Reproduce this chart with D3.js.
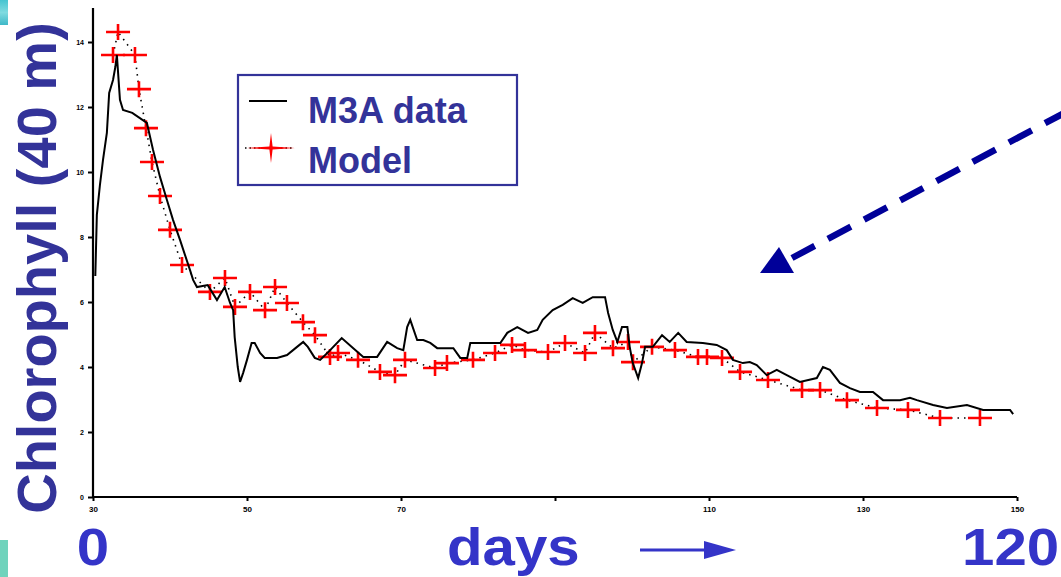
<!DOCTYPE html>
<html>
<head>
<meta charset="utf-8">
<script src="https://cdn.jsdelivr.net/npm/d3@7"></script>
<style>
  html, body { margin: 0; padding: 0; background: #fff; }
  svg { display: block; }
  text { font-family: "Liberation Sans", Arial, sans-serif; }
</style>
</head>
<body>
<svg id="chart" width="1061" height="577"></svg>
<script>
// M3A mooring chlorophyll at 40 m (days since start)
const m3aDays = [0.3,0.5,0.9,1.3,1.8,2.1,2.6,2.9,3.1,3.5,
  3.9,5.1,7.0,7.8,8.7,9.6,10.4,11.3,12.6,13.0,
  13.5,14.9,16.1,17.1,17.8,18.2,18.4,18.8,19.1,19.5,
  20.0,20.6,21.0,21.7,22.3,23.9,25.2,26.5,27.3,27.9,
  28.8,29.5,30.8,32.3,33.8,35.1,36.9,38.2,39.5,40.3,
  40.8,41.2,42.1,42.9,43.8,44.7,46.8,47.7,48.6,49.0,
  52.9,53.8,55.1,56.5,57.7,58.4,59.7,61.0,62.3,63.6,
  64.9,66.5,66.9,67.5,68.1,68.7,69.4,69.7,70.1,70.8,
  71.3,71.7,72.7,73.9,74.9,76.0,77.1,79.2,81.0,82.3,
  83.1,84.4,85.3,86.2,87.5,88.8,90.1,91.8,94.0,94.8,
  95.7,97.0,98.3,99.6,101.3,102.6,104.8,106.1,107.0,109.1,
  110.9,113.5,115.6,119.1,119.5];
const m3aValues = [6.80,8.68,9.60,10.37,11.20,12.43,12.83,13.23,13.60,12.22,
  11.91,11.82,11.51,10.68,9.85,9.14,8.52,7.91,6.98,6.68,
  6.46,6.52,6.06,6.46,5.97,5.75,4.92,4.00,3.54,3.82,
  4.22,4.74,4.74,4.43,4.28,4.28,4.37,4.62,4.77,4.62,
  4.28,4.22,4.52,4.89,4.58,4.31,4.31,4.77,4.58,4.52,
  5.23,5.45,4.83,4.83,4.74,4.58,4.58,4.28,4.28,4.74,
  4.74,5.05,5.23,5.05,5.14,5.45,5.75,5.91,6.12,5.97,
  6.15,6.15,5.66,5.14,4.77,5.23,5.23,4.62,4.12,3.66,
  4.12,4.62,4.62,4.98,4.77,5.05,4.77,4.74,4.68,4.52,
  4.22,4.12,4.15,4.06,3.75,3.91,3.75,3.54,3.66,4.00,
  3.91,3.51,3.35,3.23,3.23,2.98,2.98,3.05,2.98,2.83,
  2.74,2.83,2.68,2.68,2.55];

// Model output sampled at the marker times
const modelDays = [2.6,3.25,5.45,5.97,6.88,7.66,8.70,10.0,11.56,15.19,
  17.14,18.44,20.39,22.34,23.64,25.19,27.27,28.83,30.78,31.82,
  34.42,37.27,39.22,40.52,44.42,45.97,49.35,52.21,54.42,56.10,
  59.09,61.30,63.90,65.19,67.53,69.48,70.13,72.60,75.58,78.57,
  79.74,81.69,84.03,87.66,92.08,94.42,97.92,101.82,105.84,110.0,
  115.19];
const modelValues = [13.6,14.31,13.6,12.55,11.35,10.31,9.26,8.22,7.14,6.31,
  6.74,5.85,6.31,5.75,6.46,5.97,5.38,4.98,4.31,4.43,
  4.22,3.85,3.75,4.22,3.97,4.12,4.22,4.43,4.68,4.52,
  4.46,4.74,4.43,5.05,4.58,4.77,4.15,4.62,4.52,4.31,
  4.31,4.28,3.85,3.60,3.29,3.29,2.98,2.74,2.68,2.43,
  2.43];

// Axis ticks
const xTickValues = [0, 20, 40, 60, 80, 100, 120];
const xTickLabels = ["30", "50", "70", "", "110", "130", "150"];
const yTickValues = [0, 2, 4, 6, 8, 10, 12, 14];
const yTickLabels = ["0", "2", "4", "6", "8", "10", "12", "14"];

const legendLabels = ["M3A data", "Model"];

const svg = d3.select("#chart");
const labelBlue = "#333399";
const brightBlue = "#3434c8";

const x = d3.scaleLinear().domain([0, 120]).range([93, 1017]);
const y = d3.scaleLinear().domain([0, 14]).range([497, 42]);
const yTop = 15.05;

// corner decorations
const deco = svg.append("defs").append("linearGradient")
  .attr("id", "tealGrad").attr("x1", 0).attr("y1", 0).attr("x2", 0).attr("y2", 1);
deco.append("stop").attr("offset", "0%").attr("stop-color", "#45c4d0");
deco.append("stop").attr("offset", "50%").attr("stop-color", "#7fdbe0");
deco.append("stop").attr("offset", "100%").attr("stop-color", "#3fb8c8");
svg.append("rect").attr("x", 0).attr("y", 0).attr("width", 8).attr("height", 25).attr("fill", "url(#tealGrad)");
svg.append("rect").attr("x", 0).attr("y", 540).attr("width", 8).attr("height", 37).attr("fill", "#6fd3bc");

// Y axis
const yAxisG = svg.append("g").attr("transform", "translate(93,0)");
yAxisG.append("line").attr("x1", 0).attr("x2", 0)
  .attr("y1", y(0) + 1).attr("y2", y(yTop))
  .attr("stroke", "#000").attr("stroke-width", 2.2);
yAxisG.call(d3.axisLeft(y).tickValues(yTickValues).tickSize(5)
    .tickFormat((d, i) => yTickLabels[i]))
  .call(g => g.select(".domain").remove())
  .call(g => g.selectAll(".tick line").attr("stroke", "#000").attr("stroke-width", 2))
  .call(g => g.selectAll(".tick text")
    .attr("font-family", "Liberation Sans, Arial, sans-serif")
    .attr("font-weight", "bold").attr("font-size", 7).attr("fill", "#000")
    .attr("x", -9));

// X axis
const xAxisG = svg.append("g").attr("transform", `translate(0,${y(0)})`);
xAxisG.call(d3.axisBottom(x).tickValues(xTickValues).tickSize(4)
    .tickFormat((d, i) => xTickLabels[i]))
  .call(g => g.select(".domain").attr("stroke", "#000").attr("stroke-width", 2)
    .attr("d", `M${x(0) - 1},0H${x(120)}`))
  .call(g => g.selectAll(".tick line").attr("stroke", "#000").attr("stroke-width", 2))
  .call(g => g.selectAll(".tick text")
    .attr("font-family", "Liberation Sans, Arial, sans-serif")
    .attr("font-weight", "bold").attr("font-size", 8).attr("fill", "#000")
    .attr("y", 9));

// Model: dotted connecting line and red cross markers
const modelPts = modelDays.map((d, i) => [d, modelValues[i]]);
const m3aPts = m3aDays.map((d, i) => [d, m3aValues[i]]);
const line = d3.line().x(d => x(d[0])).y(d => y(d[1]));

svg.append("path").datum(modelPts).attr("d", line)
  .attr("fill", "none").attr("stroke", "#000").attr("stroke-width", 1.6)
  .attr("stroke-dasharray", "1.5,5");

svg.append("g").selectAll("path").data(modelPts).join("path")
  .attr("transform", d => `translate(${x(d[0])},${y(d[1])})`)
  .attr("d", "M-12,0H12M0,-8V8")
  .attr("stroke", "#ff0000").attr("stroke-width", 2.6).attr("fill", "none");

// M3A observations
svg.append("path").datum(m3aPts).attr("d", line)
  .attr("fill", "none").attr("stroke", "#000").attr("stroke-width", 2)
  .attr("stroke-linejoin", "miter");

// Legend
const lg = svg.append("g");
lg.append("rect").attr("x", 238).attr("y", 75).attr("width", 279).attr("height", 110)
  .attr("fill", "#fff").attr("stroke", labelBlue).attr("stroke-width", 2.2);
lg.append("line").attr("x1", 249).attr("x2", 287).attr("y1", 101).attr("y2", 101)
  .attr("stroke", "#000").attr("stroke-width", 2);
lg.append("line").attr("x1", 245).attr("x2", 292).attr("y1", 148).attr("y2", 148)
  .attr("stroke", "#000").attr("stroke-width", 1.6).attr("stroke-dasharray", "1.5,3");
lg.append("path")
  .attr("transform", "translate(271,148)")
  .attr("d", "M0,-15L1.6,-1.6L24,0L1.6,1.6L0,15L-1.6,1.6L-24,0L-1.6,-1.6Z")
  .attr("fill", "#ff0000");
lg.selectAll("text.leg").data(legendLabels).join("text")
  .attr("class", "leg")
  .attr("x", 308).attr("y", (d, i) => 123 + i * 50)
  .attr("font-size", 36).attr("font-weight", "bold").attr("fill", labelBlue)
  .text(d => d);

// Dashed pointer arrow
svg.append("line").attr("x1", 1068).attr("y1", 111).attr("x2", 792).attr("y2", 258)
  .attr("stroke", "#000099").attr("stroke-width", 6.5)
  .attr("stroke-dasharray", "26,15");
svg.append("path").attr("d", "M779,247L760,273L794,273Z").attr("fill", "#000099");

// Y label
svg.append("text")
  .attr("transform", "translate(56,268) rotate(-90)")
  .attr("text-anchor", "middle")
  .attr("font-size", 56).attr("font-weight", "bold").attr("fill", labelBlue)
  .text("Chlorophyll (40 m)");

// Bottom labels (slightly widened lettering)
const bottomLabels = [
  { text: "0", x: x(0), anchor: "middle" },
  { text: "days", x: 447, anchor: "start" },
  { text: "120", x: 962, anchor: "start" }
];
svg.append("g").selectAll("text").data(bottomLabels).join("text")
  .attr("transform", d => `translate(${d.x},565) scale(1.12,1)`)
  .attr("text-anchor", d => d.anchor)
  .attr("fill", brightBlue).attr("font-weight", "bold").attr("font-size", 52)
  .text(d => d.text);
svg.append("line").attr("x1", 640).attr("x2", 708).attr("y1", 550).attr("y2", 550)
  .attr("stroke", brightBlue).attr("stroke-width", 3);
svg.append("path").attr("d", "M704,541L736,550L704,559Z").attr("fill", brightBlue);
</script>
</body>
</html>
